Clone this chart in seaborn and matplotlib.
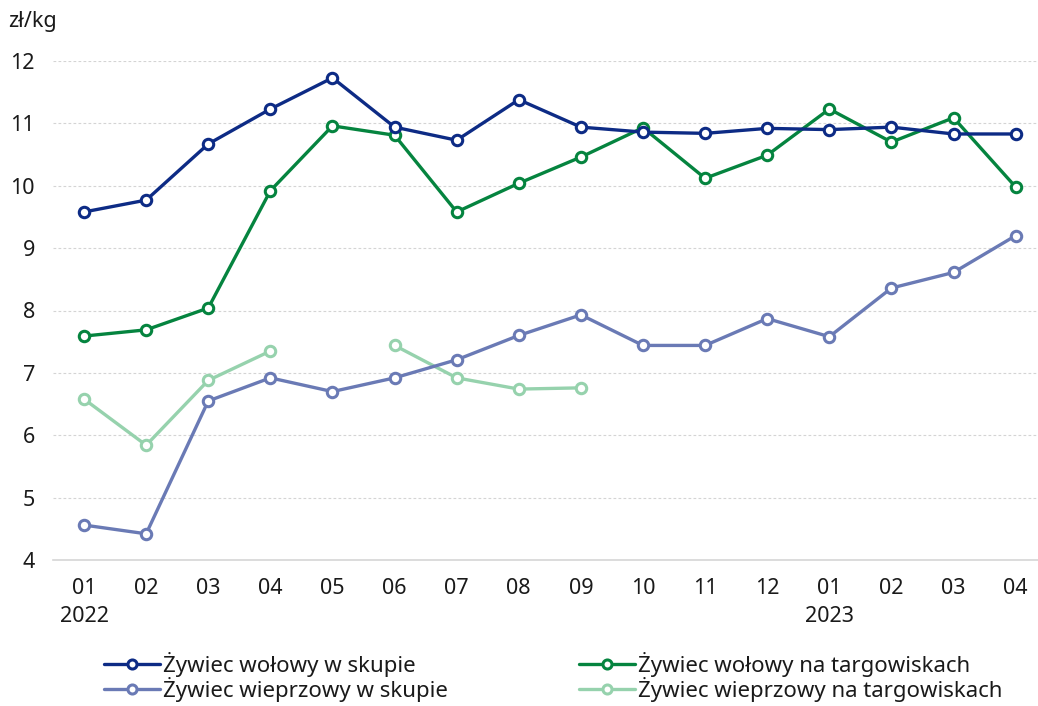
import numpy as np
import pandas as pd
import matplotlib
matplotlib.use("Agg")
import matplotlib.pyplot as plt
import seaborn as sns
from matplotlib.lines import Line2D

# dane (zł/kg)
months = ["01", "02", "03", "04", "05", "06", "07", "08",
          "09", "10", "11", "12", "01", "02", "03", "04"]
years = {0: "2022", 12: "2023"}

wolowy_skup = [9.58, 9.77, 10.67, 11.23, 11.73, 10.94, 10.73, 11.38,
               10.94, 10.86, 10.84, 10.92, 10.90, 10.94, 10.83, 10.83]
wolowy_targ = [7.59, 7.69, 8.04, 9.92, 10.96, 10.81, 9.58, 10.04,
               10.46, 10.93, 10.12, 10.49, 11.23, 10.70, 11.09, 9.98]
wieprz_skup = [4.56, 4.42, 6.55, 6.92, 6.70, 6.92, 7.21, 7.60,
               7.93, 7.44, 7.44, 7.87, 7.58, 8.36, 8.61, 9.20]
wieprz_targ = [6.58, 5.84, 6.88, 7.35, np.nan, 7.44, 6.92, 6.74,
               6.76, np.nan, np.nan, np.nan, np.nan, np.nan, np.nan, np.nan]

names = ["Żywiec wołowy w skupie", "Żywiec wieprzowy w skupie",
         "Żywiec wołowy na targowiskach", "Żywiec wieprzowy na targowiskach"]
values = [wolowy_skup, wieprz_skup, wolowy_targ, wieprz_targ]
colors = ["#0d2b85", "#6a7ab5", "#05843f", "#96d2ad"]

rows = []
for name, vals in zip(names, values):
    seg = 0
    for i, v in enumerate(vals):
        if np.isnan(v):
            seg += 1
            continue
        rows.append({"x": i, "val": v, "series": name, "seg": seg})
df = pd.DataFrame(rows)

sns.set_theme(style="white")
plt.rcParams["font.family"] = ["Noto Sans", "DejaVu Sans"]
fs = 15.5
txt = "#1a1a1a"

fig = plt.figure(figsize=(10.38, 7.06), dpi=100)
ax = fig.add_axes([53 / 1038, 1 - 560 / 706, 1 - 53 / 1038, (560 - 61) / 706])

palette = dict(zip(names, colors))
sns.lineplot(data=df, x="x", y="val", hue="series", units="seg", estimator=None,
             palette=palette, hue_order=names[::-1], marker="o", markersize=7.5,
             markerfacecolor="white", markeredgewidth=2.2, linewidth=2.4,
             legend=False, ax=ax, zorder=3)
for line in ax.lines:
    line.set_markeredgecolor(line.get_color())

ax.set_ylim(4, 12)
ax.set_xlim(-0.5, 15.36)
ax.set_yticks(range(4, 13))
ax.set_xticks(range(len(months)))
ax.set_xticklabels(months)
ax.tick_params(axis="both", length=0, labelsize=fs, colors=txt)
ax.tick_params(axis="x", pad=13)
ax.tick_params(axis="y", pad=13)
ax.set_xlabel("")
ax.set_ylabel("")
for y in range(5, 13):
    ax.axhline(y, color="#d4d4d4", linewidth=0.8, linestyle=(0, (2.5, 2)), zorder=1)
for s in ["top", "right", "left"]:
    ax.spines[s].set_visible(False)
ax.spines["bottom"].set_color("#d6d6d6")
ax.spines["bottom"].set_linewidth(1.2)

for i, yr in years.items():
    ax.text(i, -0.113, yr, transform=ax.get_xaxis_transform(), ha="center",
            va="center", fontsize=fs, color=txt)

fig.text(8 / 1038, 1 - 22 / 706, "zł/kg", fontsize=fs, color=txt, va="center")

handles = [Line2D([], [], color=c, marker="o", markersize=6.5, markerfacecolor="white",
                  markeredgecolor=c, markeredgewidth=2.2, linewidth=2.4) for c in colors]
leg_kw = dict(frameon=False, fontsize=16, handlelength=2.5, handletextpad=0.15,
              labelspacing=0.0, borderpad=0, borderaxespad=0, labelcolor=txt, loc="center left")
fig.legend(handles[:2], names[:2], bbox_to_anchor=(104 / 1038, 1 - 677 / 706), **leg_kw)
fig.legend(handles[2:], names[2:], bbox_to_anchor=(579 / 1038, 1 - 677 / 706), **leg_kw)

fig.savefig("out.png", dpi=100)
